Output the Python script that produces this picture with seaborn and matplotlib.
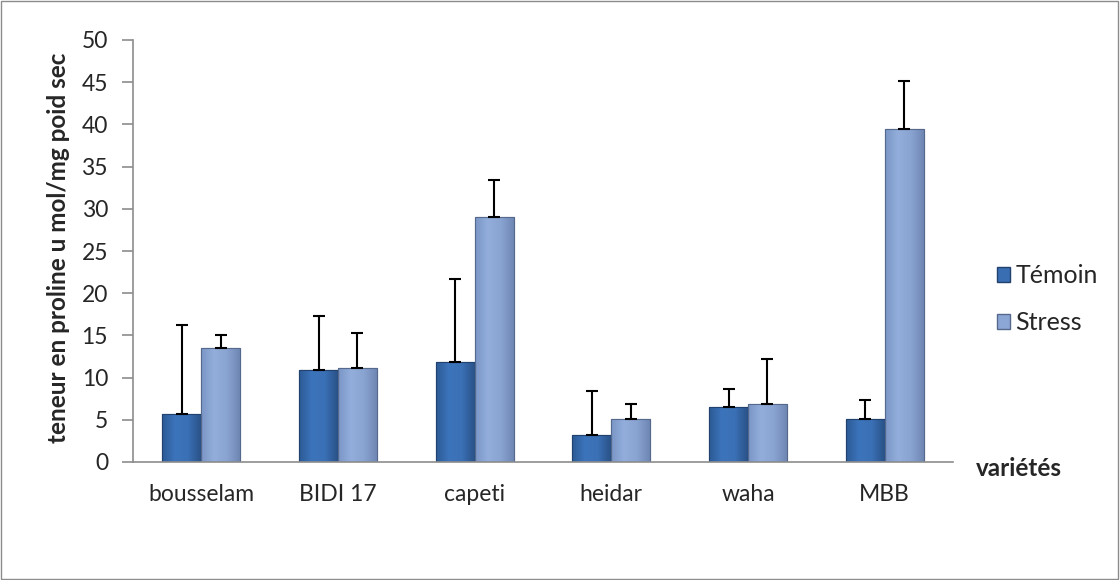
import numpy as np
import pandas as pd
import seaborn as sns
import matplotlib
matplotlib.use("Agg")
import matplotlib.pyplot as plt
from matplotlib.patches import Rectangle
from matplotlib.colors import LinearSegmentedColormap

varietes = ["bousselam", "BIDI 17", "capeti", "heidar", "waha", "MBB"]
temoin = [5.7, 10.9, 11.85, 3.2, 6.5, 5.1]
temoin_err = [10.5, 6.4, 9.85, 5.25, 2.1, 2.3]
stress = [13.5, 11.1, 29.0, 5.1, 6.9, 39.5]
stress_err = [1.6, 4.2, 4.4, 1.8, 5.3, 5.7]

df = pd.DataFrame({
    "variete": varietes * 2,
    "teneur": temoin + stress,
    "groupe": ["Témoin"] * 6 + ["Stress"] * 6,
})

sns.set_style("white")
plt.rcParams["font.family"] = ["Lato", "DejaVu Sans"]

fig = plt.figure(figsize=(11.2, 5.8), dpi=100)
ax = fig.add_axes([133 / 1120, 1 - 462 / 580, 820 / 1120, 422 / 580])

colors = {"Témoin": "#3a6eb2", "Stress": "#8ca7d5"}
edges = {"Témoin": "#21426f", "Stress": "#55698d"}
# left -> right shading, a bit like the excel bevel
shades = {
    "Témoin": ["#2c5a95", "#3c74bb", "#3a70b5", "#2a5288"],
    "Stress": ["#7a96c6", "#93aedb", "#8aa4d2", "#6f87b3"],
}
sns.barplot(data=df, x="variete", y="teneur", hue="groupe", palette=colors,
            saturation=1, width=0.57, gap=0, ax=ax, legend=False, errorbar=None)

errs = temoin_err + stress_err
grad = np.linspace(0, 1, 64).reshape(1, -1)
for i, p in enumerate(ax.patches[:12]):
    grp = "Témoin" if i < 6 else "Stress"
    p.set_edgecolor(edges[grp])
    p.set_linewidth(0.8)
    x0, w, h = p.get_x(), p.get_width(), p.get_height()
    cmap = LinearSegmentedColormap.from_list(grp, shades[grp])
    im = ax.imshow(grad, cmap=cmap, extent=[x0, x0 + w, 0, h], aspect="auto",
                   zorder=p.get_zorder() + 0.1, interpolation="bilinear")
    im.set_clip_path(p)
    ax.add_patch(Rectangle((x0, 0), w, h, fill=False, edgecolor=edges[grp],
                           linewidth=0.8, zorder=p.get_zorder() + 0.2))
    ax.errorbar(x0 + w / 2, h, yerr=[[0], [errs[i]]], fmt="none",
                ecolor="black", elinewidth=1.5, capsize=4.5, capthick=1.5, zorder=5)

ax.set_ylim(0, 50)
ax.set_xlim(-0.5, 5.5)
ax.set_yticks(np.arange(0, 51, 5))
ax.set_xlabel("")
ax.set_ylabel("")
ax.set_xticks(np.arange(-0.5, 6, 1), minor=True)
ax.tick_params(axis="x", which="major", length=0, labelsize=16.5, pad=16)
ax.tick_params(axis="x", which="minor", length=7, color="#8c8c8c", width=1.2)
ax.tick_params(axis="y", length=8, color="#8c8c8c", width=1.2, labelsize=16.5, pad=10, left=True)
for s in ["top", "right"]:
    ax.spines[s].set_visible(False)
for s in ["left", "bottom"]:
    ax.spines[s].set_color("#8c8c8c")
    ax.spines[s].set_linewidth(1.2)

fig.text(58 / 1120, 1 - 248 / 580, "teneur en proline u mol/mg poid sec",
         rotation=90, ha="center", va="center", fontsize=17.5, fontweight="bold")
fig.text(976 / 1120, 1 - 468 / 580, "variétés", ha="left", va="center",
         fontsize=17.5, fontweight="bold")

handles = [Rectangle((0, 0), 1, 1, facecolor=colors[g], edgecolor=edges[g]) for g in ["Témoin", "Stress"]]
fig.legend(handles, ["Témoin", "Stress"], loc="center left",
           bbox_to_anchor=(974 / 1120, 1 - 299 / 580), frameon=False,
           fontsize=18, handlelength=0.55, handleheight=0.55, handletextpad=0.2,
           labelspacing=0.95)

fig.patches.append(Rectangle((0.001, 0.002), 0.997, 0.996, transform=fig.transFigure,
                             fill=False, edgecolor="#8c8c8c", linewidth=1.0))

fig.savefig("out.png", dpi=100)
